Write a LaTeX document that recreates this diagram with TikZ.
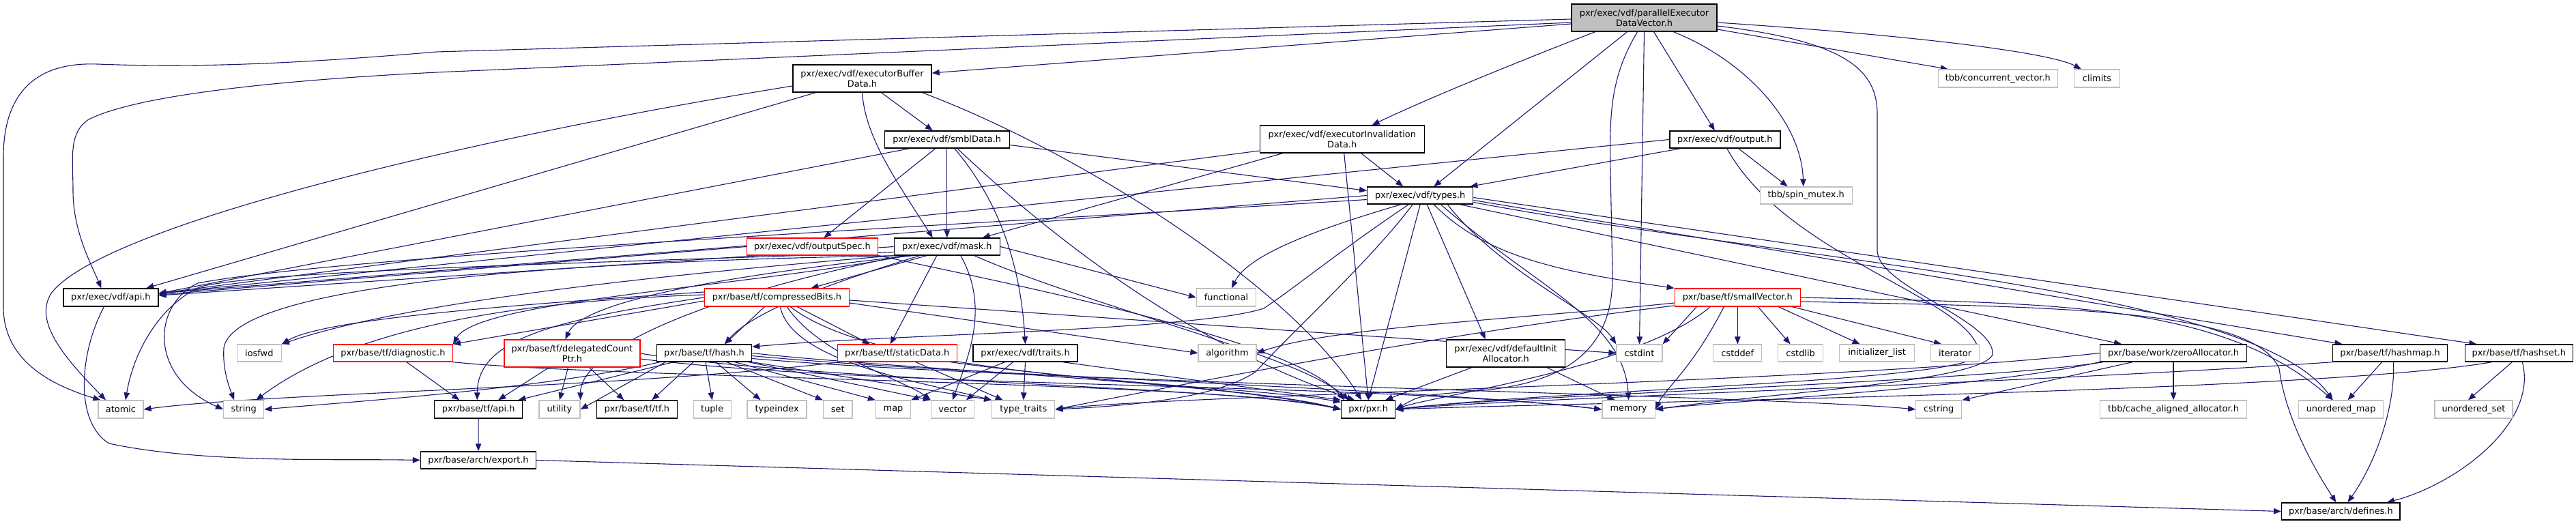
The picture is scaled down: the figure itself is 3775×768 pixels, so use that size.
\documentclass[tikz,border=0pt]{standalone}
\usepackage{fontspec}
\setmainfont{DejaVu Sans}
\usetikzlibrary{arrows.meta,calc,backgrounds}
\definecolor{edgec}{HTML}{191970}
\definecolor{sysc}{HTML}{BFBFBF}
\definecolor{rootc}{HTML}{BFBFBF}
\begin{document}
\begin{tikzpicture}[x=1pt,y=-1pt,
  every node/.style={font=\fontsize{12.9}{15.5}\selectfont, inner sep=0pt, align=center, minimum height=25pt},
  nb/.style={draw=black, line width=1.4pt, fill=white},
  sys/.style={draw=sysc, line width=1.3pt, fill=white},
  rednode/.style={draw=red, line width=1.3pt, fill=white},
  rootn/.style={draw=black, line width=1.4pt, fill=rootc},
  edg/.style={draw=edgec, line width=1.1pt, -{Triangle[length=11pt,width=8.5pt]}},
  ]
\useasboundingbox (0,0) rectangle (3775,768);
% ---------- nodes
\node[rootn, minimum width=213pt, minimum height=40pt] (R) at (2409.5,26) {pxr/exec/vdf/parallelExecutor\\DataVector.h};
\node[nb, minimum width=203pt, minimum height=40pt] (EBD) at (1263.5,115) {pxr/exec/vdf/executorBuffer\\Data.h};
\node[nb, minimum width=183pt] (SMBL) at (1387.8,204.5) {pxr/exec/vdf/smblData.h};
\node[nb, minimum width=241pt, minimum height=40pt] (EID) at (1966.7,204) {pxr/exec/vdf/executorInvalidation\\Data.h};
\node[nb, minimum width=162pt] (OUT) at (2527.8,204.5) {pxr/exec/vdf/output.h};
\node[sys, minimum width=175pt, minimum height=26pt] (TBBCV) at (2927.8,115) {tbb/concurrent\_vector.h};
\node[sys, minimum width=67pt, minimum height=26pt] (CLIM) at (3073,115) {climits};
\node[sys, minimum width=135pt] (SPIN) at (2646.7,286.5) {tbb/spin\_mutex.h};
\node[nb, minimum width=155pt] (TYPES) at (2081.2,286.5) {pxr/exec/vdf/types.h};
\node[rednode, minimum width=192pt] (OSPEC) at (1190.4,361.5) {pxr/exec/vdf/outputSpec.h};
\node[nb, minimum width=155pt] (MASK) at (1387.8,361.5) {pxr/exec/vdf/mask.h};
\node[nb, minimum width=139pt, minimum height=26pt] (VAPI) at (162.4,436) {pxr/exec/vdf/api.h};
\node[sys, minimum width=87pt, minimum height=26pt] (FUNC) at (1797,436) {functional};
\node[rednode, minimum width=184pt, minimum height=26pt] (SV) at (2546.3,436) {pxr/base/tf/smallVector.h};
\node[rednode, minimum width=212pt, minimum height=26pt] (CB) at (1138.4,436) {pxr/base/tf/compressedBits.h};
\node[sys, minimum width=65pt] (IOS) at (379.8,517.5) {iosfwd};
\node[rednode, minimum width=175pt] (DIAG) at (575.9,517.5) {pxr/base/tf/diagnostic.h};
\node[rednode, minimum width=199pt, minimum height=40pt] (DCP) at (838.4,518) {pxr/base/tf/delegatedCount\\Ptr.h};
\node[nb, minimum width=139pt] (HASH) at (1032,517.5) {pxr/base/tf/hash.h};
\node[rednode, minimum width=175pt] (SDATA) at (1314.7,517.5) {pxr/base/tf/staticData.h};
\node[nb, minimum width=153pt] (TRAITS) at (1502.5,517.5) {pxr/exec/vdf/traits.h};
\node[sys, minimum width=85pt] (ALGO) at (1798.6,517.5) {algorithm};
\node[nb, minimum width=174pt, minimum height=40pt] (DIA) at (2206.7,518) {pxr/exec/vdf/defaultInit\\Allocator.h};
\node[sys, minimum width=67pt] (CSTDINT) at (2402.5,517.5) {cstdint};
\node[sys, minimum width=71pt] (CSTDDEF) at (2546.3,517.5) {cstddef};
\node[sys, minimum width=66pt] (CSTDLIB) at (2638.6,517.5) {cstdlib};
\node[sys, minimum width=110pt] (INIT) at (2750.6,517.5) {initializer\_list};
\node[sys, minimum width=71pt] (ITER) at (2865.1,517.5) {iterator};
\node[nb, minimum width=215pt] (ZA) at (3185,517.5) {pxr/base/work/zeroAllocator.h};
\node[nb, minimum width=168pt] (HMAP) at (3502.5,517.5) {pxr/base/tf/hashmap.h};
\node[nb, minimum width=158pt] (HSET) at (3691.3,517.5) {pxr/base/tf/hashset.h};
\node[sys, minimum width=66pt, minimum height=26pt] (ATOMIC) at (177,600) {atomic};
\node[sys, minimum width=59pt, minimum height=26pt] (STRING) at (357.2,600) {string};
\node[nb, minimum width=129pt, minimum height=26pt] (TFAPI) at (701.2,600) {pxr/base/tf/api.h};
\node[sys, minimum width=60pt, minimum height=26pt] (UTIL) at (820,600) {utility};
\node[nb, minimum width=118pt, minimum height=26pt] (TFH) at (933.3,600) {pxr/base/tf/tf.h};
\node[sys, minimum width=55pt, minimum height=26pt] (TUPLE) at (1043.7,600) {tuple};
\node[sys, minimum width=87pt, minimum height=26pt] (TYPEIDX) at (1138.6,600) {typeindex};
\node[sys, minimum width=42.5pt, minimum height=26pt] (SET) at (1227.8,600) {set};
\node[sys, minimum width=51pt, minimum height=26pt] (MAP) at (1309,600) {map};
\node[sys, minimum width=63pt, minimum height=26pt] (VECTOR) at (1395.9,600) {vector};
\node[sys, minimum width=92pt, minimum height=26pt] (TT) at (1499.8,600) {type\_traits};
\node[nb, minimum width=79pt, minimum height=26pt] (PXR) at (2005.1,600) {pxr/pxr.h};
\node[sys, minimum width=77.5pt, minimum height=26pt] (MEM) at (2386.6,600) {memory};
\node[sys, minimum width=67pt, minimum height=26pt] (CSTRING) at (2841.2,600) {cstring};
\node[sys, minimum width=215pt, minimum height=26pt] (CAA) at (3185,600) {tbb/cache\_aligned\_allocator.h};
\node[sys, minimum width=124pt, minimum height=26pt] (UMAP) at (3430.6,600) {unordered\_map};
\node[sys, minimum width=114pt, minimum height=26pt] (USET) at (3625,600) {unordered\_set};
\node[nb, minimum width=169pt] (EXPORT) at (701,674.5) {pxr/base/arch/export.h};
\node[nb, minimum width=173.5pt] (DEFINES) at (3430.4,749.5) {pxr/base/arch/defines.h};
% ---------- edges
\begin{scope}[on background layer]
% root
\draw[edg] ($(R.west)+(0,2)$) -- (640,76) .. controls (450,92) and (300,100) .. (143,94) .. controls (40,90) and (5,150) .. (5,230) -- (5,450) .. controls (5,520) and (60,560) .. ($(ATOMIC.north west)+(4,0)$);
\draw[edg] ($(R.west)+(0,7)$) -- (640,106) .. controls (400,118) and (200,140) .. (130,175) .. controls (100,195) and (107,230) .. (107,280) .. controls (107,340) and (135,390) .. ($(VAPI.north)+(-14,0)$);
\draw[edg] ($(R.west)+(0,9)$) -- ($(EBD.east)+(0,-8)$);
\draw[edg] ($(R.south)+(-72,0)$) .. controls (2200,100) and (2080,150) .. ($(EID.north)+(44,0)$);
\draw[edg] ($(R.south)+(-25,0)$) -- ($(TYPES.north)+(20,0)$);
\draw[edg] ($(R.south)+(-10,0)$) .. controls (2362,110) and (2358,160) .. (2360,250) -- (2363,400) .. controls (2365,510) and (2300,565) .. (2150,574) .. controls (2080,580) .. (PXR.east);
\draw[edg] (R.south) -- (CSTDINT.north);
\draw[edg] ($(R.south)+(14,0)$) -- ($(OUT.north)+(-15,0)$);
\draw[edg] ($(R.south)+(43,0)$) .. controls (2560,90) and (2640,180) .. ($(SPIN.north)+(-4,0)$);
\draw[edg] ($(R.east)+(0,17)$) -- ($(TBBCV.north)+(-73,0)$);
\draw[edg] ($(R.east)+(0,7)$) .. controls (2850,55) and (3010,80) .. ($(CLIM.north)+(-23,0)$);
\draw[edg] ($(R.east)+(0,12)$) .. controls (2700,60) and (2751,100) .. (2751,167) -- (2751,367) .. controls (2751,420) and (2925,470) .. (2920,520) .. controls (2900,560) and (2600,575) .. (MEM.east);
% executorBufferData
\draw[edg] ($(EBD.south)+(28,0)$) -- ($(SMBL.north)+(-21,0)$);
\draw[edg] (EBD.south) .. controls (1268,200) and (1310,260) .. ($(MASK.north)+(-21,0)$);
\draw[edg] ($(EBD.south)+(88,0)$) .. controls (1600,230) and (1900,430) .. ($(PXR.north)+(-10,0)$);
\draw[edg] ($(EBD.south)+(-68,0)$) -- ($(VAPI.north)+(52,0)$);
\draw[edg] ($(EBD.west)+(0,11)$) .. controls (700,200) and (150,330) .. (75,430) .. controls (50,470) and (90,520) .. ($(ATOMIC.north)+(-22,0)$);
% smblData
\draw[edg] ($(SMBL.south)+(-55,0)$) -- ($(VAPI.east)+(0,-6)$);
\draw[edg] ($(SMBL.south)+(-17,0)$) -- ($(OSPEC.north)+(17,0)$);
\draw[edg] (SMBL.south) -- (MASK.north);
\draw[edg] ($(SMBL.south)+(11,0)$) .. controls (1460,290) and (1495,380) .. (TRAITS.north);
\draw[edg] ($(SMBL.south)+(15,0)$) .. controls (1650,450) and (1850,540) .. ($(PXR.north)+(-20,0)$);
\draw[edg] ($(SMBL.east)+(0,8)$) -- ($(TYPES.west)+(0,-7)$);
% executorInvalidationData
\draw[edg] ($(EID.west)+(0,17)$) -- ($(VAPI.east)+(0,-6)$);
\draw[edg] ($(EID.south)+(-87,0)$) -- ($(MASK.north)+(52,0)$);
\draw[edg] ($(EID.south)+(3,0)$) -- (PXR.north);
\draw[edg] ($(EID.south)+(28,0)$) -- ($(TYPES.north)+(-25,0)$);
% output
\draw[edg] (OUT.west) -- ($(VAPI.east)+(0,-6)$);
\draw[edg] ($(OUT.south)+(-65,0)$) -- ($(TYPES.north east)+(-5,0)$);
\draw[edg] ($(OUT.south)+(20,0)$) -- ($(SPIN.north)+(-27,0)$);
\draw[edg] ($(OUT.south)+(3,0)$) .. controls (2620,380) and (2900,440) .. (2900,520) .. controls (2880,560) and (2300,570) .. (PXR.east);
% types
\draw[edg] (TYPES.west) -- ($(VAPI.east)+(0,-6)$);
\draw[edg] ($(TYPES.south)+(-17,0)$) .. controls (1960,370) and (1900,420) .. (1852,452) .. controls (1750,485) and (1300,490) .. ($(HASH.north east)+(0,4)$);
\draw[edg] ($(TYPES.south)+(-28,0)$) .. controls (1950,330) and (1830,370) .. ($(FUNC.north)+(8,0)$);
\draw[edg] ($(TYPES.south)+(-11,0)$) .. controls (2010,380) and (1900,480) .. (1840,545) .. controls (1780,585) and (1650,595) .. (TT.east);
\draw[edg] ($(TYPES.west)+(0,6)$) .. controls (1400,330) and (500,375) .. (290,415) .. controls (225,445) and (215,550) .. (STRING.west);
\draw[edg] (TYPES.south) -- (PXR.north);
\draw[edg] ($(TYPES.south)+(10,0)$) -- ($(DIA.north)+(-30,0)$);
\draw[edg] ($(TYPES.south)+(20,0)$) .. controls (2180,380) and (2300,400) .. (SV.north west);
\draw[edg] ($(TYPES.south)+(40,0)$) .. controls (2200,400) and (2340,460) .. (CSTDINT.north west);
\draw[edg] ($(TYPES.south)+(30,0)$) .. controls (2250,420) and (2380,470) .. (MEM.north);
\draw[edg] ($(TYPES.south east)+(-20,0)$) -- ($(ZA.north)+(-76,0)$);
\draw[edg] ($(TYPES.east)+(0,7)$) -- ($(HMAP.north)+(-70,0)$);
\draw[edg] ($(TYPES.east)+(0,3)$) -- ($(HSET.north)+(-62,0)$);
\draw[edg] ($(TYPES.east)+(0,10)$) .. controls (2600,380) and (3300,420) .. ($(UMAP.north)+(-12,0)$);
% outputSpec
\draw[edg] (OSPEC.west) -- ($(VAPI.east)+(0,-4)$);
\draw[edg] (OSPEC.south east) .. controls (1500,420) and (1900,500) .. ($(PXR.north west)+(5,0)$);
% mask
\draw[edg] (MASK.west) -- ($(VAPI.east)+(0,-3)$);
\draw[edg] ($(MASK.south)+(-30,0)$) -- ($(CB.north)+(50,0)$);
\draw[edg] ($(MASK.south)+(-60,0)$) .. controls (1100,420) and (700,440) .. (DIAG.north east);
\draw[edg] ($(MASK.south)+(-50,0)$) .. controls (1000,410) and (850,450) .. ($(DCP.north)+(-10,0)$);
\draw[edg] ($(MASK.south)+(-15,0)$) -- ($(SDATA.north)+(-10,0)$);
\draw[edg] (MASK.east) -- (FUNC.west);
\draw[edg] ($(MASK.south west)+(0,0)$) .. controls (1000,400) and (600,440) .. (IOS.north east);
\draw[edg] ($(MASK.south west)+(5,0)$) .. controls (700,385) and (340,430) .. (328,510) .. controls (326,540) and (335,565) .. ($(STRING.north)+(-14,0)$);
\draw[edg] ($(MASK.west)+(0,8)$) .. controls (900,385) and (400,395) .. (294,420) .. controls (230,450) and (195,520) .. ($(ATOMIC.north)+(7,0)$);
\draw[edg] ($(MASK.south)+(40,0)$) .. controls (1600,450) and (1900,520) .. ($(PXR.north west)+(12,0)$);
\draw[edg] ($(MASK.south)+(-40,0)$) .. controls (1200,420) and (1100,460) .. ($(HASH.north)+(30,0)$);
\draw[edg] ($(MASK.south)+(20,0)$) .. controls (1450,450) and (1420,520) .. (VECTOR.north);
\draw[edg] ($(MASK.south)+(-65,0)$) .. controls (1000,440) and (850,520) .. (UTIL.north east);
% compressedBits
\draw[edg] ($(CB.south)+(-18,0)$) -- ($(HASH.north)+(30,0)$);
\draw[edg] (CB.west) .. controls (800,470) and (700,500) .. ($(TFAPI.north)+(-2,0)$);
\draw[edg] ($(CB.west)+(0,5)$) -- (DIAG.north east);
\draw[edg] ($(CB.south)+(30,0)$) -- ($(SDATA.north)+(-40,0)$);
\draw[edg] ($(CB.south)+(5,0)$) .. controls (1160,530) and (1350,560) .. (TT.north west);
\draw[edg] ($(CB.south)+(15,0)$) .. controls (1200,520) and (1330,560) .. (VECTOR.north west);
\draw[edg] ($(CB.east)+(0,4)$) -- (CSTDINT.west);
\draw[edg] ($(CB.east)+(0,8)$) -- (ALGO.west);
\draw[edg] ($(CB.west)+(0,-4)$) .. controls (800,440) and (530,470) .. ($(STRING.north)+(18,0)$);
\draw[edg] ($(CB.west)+(0,-8)$) .. controls (700,450) and (470,470) .. (IOS.north east);
\draw[edg] ($(CB.south)+(20,0)$) .. controls (1300,560) and (1800,560) .. ($(PXR.north west)+(0,3)$);
% diagnostic
\draw[edg] ($(DIAG.south)+(20,0)$) -- ($(TFAPI.north)+(-28,0)$);
\draw[edg] (DIAG.south east) .. controls (900,555) and (1800,560) .. (PXR.west);
% delegatedCountPtr
\draw[edg] ($(DCP.south)+(-34,0)$) -- ($(TFAPI.north)+(29,0)$);
\draw[edg] ($(DCP.south)+(-6,0)$) -- (UTIL.north);
\draw[edg] ($(DCP.south)+(25,0)$) -- ($(TFH.north)+(-19,0)$);
\draw[edg] (DCP.east) .. controls (1200,560) and (1800,565) .. (PXR.west);
\draw[edg] ($(DCP.east)+(0,8)$) .. controls (1300,570) and (2000,560) .. (MEM.west);
% hash
\draw[edg] ($(HASH.south)+(-45,0)$) -- ($(TFAPI.north east)+(-7,0)$);
\draw[edg] ($(HASH.south)+(-57,0)$) -- (UTIL.east);
\draw[edg] ($(HASH.south)+(-16,0)$) -- ($(TFH.north)+(22,0)$);
\draw[edg] ($(HASH.south)+(2,0)$) -- (TUPLE.north);
\draw[edg] ($(HASH.south)+(17,0)$) -- ($(TYPEIDX.north)+(-24,0)$);
\draw[edg] ($(HASH.south)+(33,0)$) -- (SET.north west);
\draw[edg] ($(HASH.south)+(45,0)$) -- (MAP.north west);
\draw[edg] ($(HASH.south east)+(-5,0)$) -- (VECTOR.north west);
\draw[edg] (HASH.south east) -- (TT.north west);
\draw[edg] (HASH.east) .. controls (1300,540) and (1800,560) .. (PXR.west);
\draw[edg] ($(HASH.east)+(0,4)$) .. controls (1400,550) and (2100,570) .. (MEM.west);
\draw[edg] ($(HASH.south west)+(5,0)$) .. controls (800,570) and (500,590) .. (STRING.east);
\draw[edg] ($(HASH.east)+(0,8)$) .. controls (1500,560) and (2600,580) .. (CSTRING.west);
% staticData
\draw[edg] ($(SDATA.south)+(27,0)$) -- ($(TT.north)+(-30,0)$);
\draw[edg] ($(SDATA.south east)+(-10,0)$) .. controls (1600,560) and (1850,570) .. (PXR.west);
\draw[edg] ($(SDATA.south west)+(5,0)$) .. controls (900,570) and (400,575) .. (ATOMIC.east);
% traits
\draw[edg] ($(TRAITS.south)+(-30,0)$) -- (MAP.north east);
\draw[edg] ($(TRAITS.south)+(-18,0)$) -- ($(VECTOR.north)+(20,0)$);
\draw[edg] (TRAITS.south) -- (TT.north);
\draw[edg] ($(TRAITS.south)+(55,0)$) -- (PXR.north west);
% defaultInitAllocator
\draw[edg] ($(DIA.south)+(-50,0)$) -- ($(PXR.north)+(25,0)$);
\draw[edg] ($(DIA.south)+(60,0)$) -- ($(MEM.north)+(-20,0)$);
% smallVector
\draw[edg] ($(SV.west)+(0,8)$) .. controls (2200,470) and (1950,480) .. (ALGO.east);
\draw[edg] ($(SV.south)+(0,0)$) -- (CSTDDEF.north);
\draw[edg] ($(SV.south)+(30,0)$) -- ($(CSTDLIB.north)+(-15,0)$);
\draw[edg] ($(SV.south)+(60,0)$) -- ($(INIT.north)+(-25,0)$);
\draw[edg] ($(SV.south)+(80,0)$) -- ($(ITER.north)+(-20,0)$);
\draw[edg] ($(SV.south)+(-60,0)$) -- (CSTDINT.north east);
\draw[edg] ($(SV.south)+(-40,0)$) .. controls (2400,540) and (2100,580) .. (PXR.east);
\draw[edg] ($(SV.south)+(-20,0)$) .. controls (2480,540) and (2440,570) .. (MEM.east);
\draw[edg] ($(SV.west)+(0,12)$) .. controls (2100,490) and (1700,570) .. (TT.east);
\draw[edg] ($(SV.east)+(0,6)$) .. controls (3000,450) and (3300,450) .. (3340,540) .. controls (3350,620) and (3400,700) .. ($(DEFINES.north)+(-7,0)$);
\draw[edg] ($(SV.east)+(0,0)$) .. controls (3000,445) and (3250,440) .. ($(UMAP.north)+(-12,0)$);
% zeroAllocator
\draw[edg] (ZA.south) -- (CAA.north);
\draw[edg] ($(ZA.south)+(-60,0)$) -- (CSTRING.north east);
\draw[edg] ($(ZA.south west)+(5,0)$) .. controls (2900,560) and (2200,580) .. (PXR.east);
\draw[edg] ($(ZA.south west)+(0,0)$) .. controls (2900,570) and (2500,590) .. (MEM.east);
\draw[edg] (ZA.west) .. controls (2700,560) and (1700,580) .. (TT.east);
% hashmap / hashset
\draw[edg] (HMAP.south west) .. controls (3000,560) and (2200,585) .. (PXR.east);
\draw[edg] ($(HMAP.south)+(-12,0)$) -- ($(UMAP.north)+(10,0)$);
\draw[edg] ($(HMAP.south)+(5,0)$) .. controls (3510,600) and (3480,680) .. ($(DEFINES.north)+(10,0)$);
\draw[edg] ($(HSET.south)+(-40,0)$) .. controls (3400,575) and (2300,590) .. (PXR.east);
\draw[edg] ($(HSET.south)+(-10,0)$) -- ($(USET.north)+(-8,0)$);
\draw[edg] ($(HSET.south)+(5,0)$) .. controls (3720,620) and (3600,710) .. ($(DEFINES.north east)+(-20,0)$);
% api / export
\draw[edg] ($(VAPI.south)+(-10,0)$) .. controls (115,520) and (110,620) .. (160,650) .. controls (300,680) and (500,672) .. (EXPORT.west);
\draw[edg] (TFAPI.south) -- (EXPORT.north);
\draw[edg] (EXPORT.east) -- (DEFINES.west);
\end{scope}
\end{tikzpicture}
\end{document}
